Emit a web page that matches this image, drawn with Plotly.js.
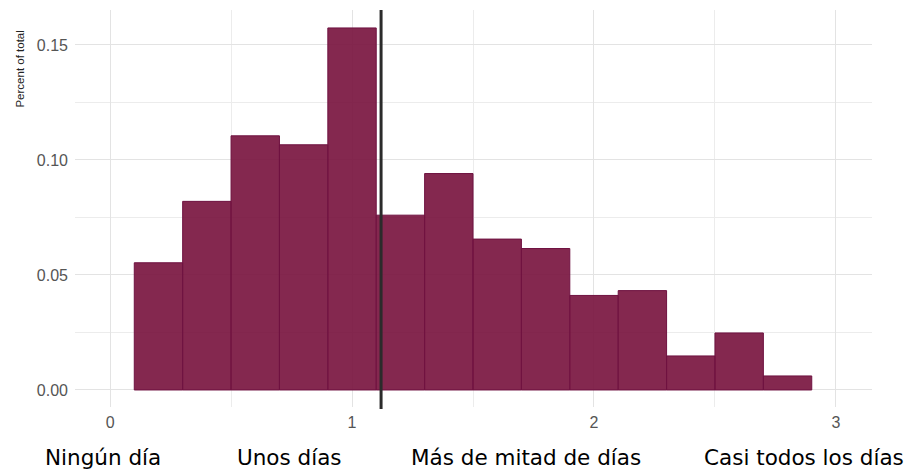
<!DOCTYPE html>
<html>
<head>
<meta charset="utf-8">
<script src="https://cdn.plot.ly/plotly-3.0.1.min.js"></script>
<style>html,body{margin:0;padding:0;background:#fff;}#chart{width:917px;height:471px;}</style>
</head>
<body>
<div id="chart"></div>
<script>
// Bin centres (bin width 0.2) and share of total per bin
const binCenters = [0.2, 0.4, 0.6, 0.8, 1.0, 1.2, 1.4, 1.6, 1.8, 2.0, 2.2, 2.4, 2.6, 2.8];
const percentOfTotal = [0.0553, 0.0820, 0.1105, 0.1066, 0.1574, 0.0760, 0.0941, 0.0656, 0.0615, 0.0411, 0.0432, 0.0148, 0.0248, 0.0061];
const meanValue = 1.12;
const xTickVals = [0, 1, 2, 3];
const yTickVals = [0, 0.05, 0.10, 0.15];
const yTickText = ["0.00", "0.05", "0.10", "0.15"];
const categoryLabels = ["Ningún día", "Unos días", "Más de mitad de días", "Casi todos los días"];
const categoryPos = [-0.03, 0.74, 1.72, 2.87];

const narrow = "Liberation Sans Narrow, Arial Narrow, Liberation Sans, sans-serif";

const trace = {
  type: "bar",
  x: binCenters,
  y: percentOfTotal,
  width: binCenters.map(() => 0.2),
  marker: {color: "rgba(119,17,60,0.9)", line: {color: "#6f1240", width: 1}},
  hoverinfo: "x+y"
};

const annotations = categoryLabels.map((t, i) => ({
  text: t, x: categoryPos[i], xref: "x", y: -0.128, yref: "paper",
  showarrow: false, xanchor: "center", yanchor: "middle",
  font: {family: "DejaVu Sans, Verdana, sans-serif", size: 21.5, color: "#000"}
}));
annotations.push({
  text: "Percent of total", textangle: -90, x: -0.069, xref: "paper", y: 0.85, yref: "paper",
  showarrow: false, xanchor: "center", yanchor: "middle",
  font: {family: narrow, size: 11.5, color: "#222"}
});

const layout = {
  width: 917, height: 471,
  margin: {l: 75, r: 45, t: 10, b: 64},
  paper_bgcolor: "#fff", plot_bgcolor: "#fff",
  showlegend: false,
  bargap: 0,
  xaxis: {
    range: [-0.145, 3.149], tickvals: xTickVals, ticktext: xTickVals.map(String),
    showgrid: true, gridcolor: "#e3e3e3", gridwidth: 1,
    minor: {dtick: 0.5, tick0: 0, showgrid: true, gridcolor: "#ececec", gridwidth: 1},
    zeroline: false, showline: false, ticks: "", ticklabelstandoff: 4,
    tickfont: {family: narrow, size: 16, color: "#555"}
  },
  yaxis: {
    range: [-0.0074, 0.1652], tickvals: yTickVals, ticktext: yTickText,
    showgrid: true, gridcolor: "#e3e3e3", gridwidth: 1,
    minor: {dtick: 0.025, tick0: 0, showgrid: true, gridcolor: "#ececec", gridwidth: 1},
    zeroline: false, showline: false, ticks: "", ticklabelstandoff: 6,
    tickfont: {family: narrow, size: 16, color: "#555"}
  },
  shapes: [{
    type: "line", xref: "x", yref: "paper", x0: meanValue, x1: meanValue, y0: -0.005, y1: 1,
    line: {color: "#2b2b2b", width: 3}
  }],
  annotations: annotations
};

Plotly.newPlot("chart", [trace], layout, {displayModeBar: false, staticPlot: true});
</script>
</body>
</html>
